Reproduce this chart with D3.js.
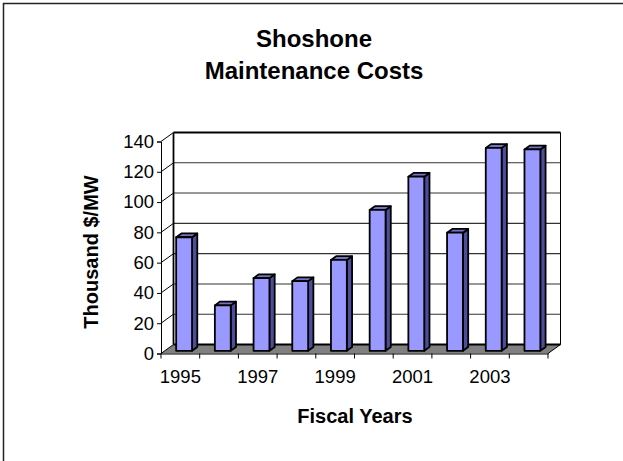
<!DOCTYPE html>
<html>
<head>
<meta charset="utf-8">
<script src="https://cdn.jsdelivr.net/npm/d3@7"></script>
<style>
    body { margin: 0; background: #fff; }
    svg { display: block; font-family: 'Liberation Sans', Arial, sans-serif; }
</style>
</head>
<body>
<div id="chart"></div>
<script>
    'use strict';

    var years = ['1995', '1996', '1997', '1998', '1999', '2000', '2001', '2002', '2003', '2004'];
    var costs = [75, 30, 48, 46, 60, 93, 115, 78, 134, 133];
    var yTicks = [0, 20, 40, 60, 80, 100, 120, 140];
    var labelledYears = ['1995', '1997', '1999', '2001', '2003'];

    var stage = { width: 623, height: 461 };

    // front plane of the 3d box, plus the depth shift to the back wall
    var plot = { left: 161, right: 548, bottom: 353.5, top: 141.5 };
    var depth = { dx: 12.5, dy: -9 };
    // bars sit between these fractions of the depth
    var barDepth = { front: 0.3, back: 0.72 };

    var x = d3.scaleBand()
        .domain(years)
        .range([plot.left, plot.right])
        .paddingInner(0)
        .paddingOuter(0);

    var y = d3.scaleLinear()
        .domain([0, 140])
        .range([plot.bottom, plot.top]);

    var svg = d3.select('#chart')
        .append('svg')
        .attr('width', stage.width)
        .attr('height', stage.height);

    // outer chart frame, only top and left are inside the picture
    svg.append('rect')
        .attr('x', 3.5)
        .attr('y', 3.5)
        .attr('width', 700)
        .attr('height', 600)
        .attr('fill', 'none')
        .attr('stroke', '#222')
        .attr('stroke-width', 1.5);

    var pt = function(px, py, t) {
        return [px + depth.dx * t, py + depth.dy * t];
    };
    var poly = function(points) {
        return points.map(function(p) { return p[0] + ',' + p[1]; }).join(' ');
    };

    // floor
    svg.append('polygon')
        .attr('points', poly([pt(plot.left, plot.bottom, 0), pt(plot.right, plot.bottom, 0),
            pt(plot.right, plot.bottom, 1), pt(plot.left, plot.bottom, 1)]))
        .attr('fill', '#808080')
        .attr('stroke', 'none');

    // back wall gridlines
    var grid = svg.append('g').attr('class', 'grid');
    grid.selectAll('line.back')
        .data(yTicks.slice(1)).enter()
        .append('line')
        .attr('x1', plot.left + depth.dx)
        .attr('x2', plot.right + depth.dx)
        .attr('y1', function(d) { return y(d) + depth.dy; })
        .attr('y2', function(d) { return y(d) + depth.dy; })
        .attr('stroke', function(d) { return d === 140 ? '#000' : '#333'; })
        .attr('stroke-width', function(d) { return d === 140 ? 1.8 : 1.1; });

    // side wall gridlines (diagonals)
    grid.selectAll('line.side')
        .data(yTicks).enter()
        .append('line')
        .attr('x1', plot.left)
        .attr('x2', plot.left + depth.dx)
        .attr('y1', function(d) { return y(d); })
        .attr('y2', function(d) { return y(d) + depth.dy; })
        .attr('stroke', '#000')
        .attr('stroke-width', 1);

    // wall edges
    grid.append('line')
        .attr('x1', plot.left + depth.dx).attr('x2', plot.left + depth.dx)
        .attr('y1', y(0) + depth.dy).attr('y2', y(140) + depth.dy)
        .attr('stroke', '#000').attr('stroke-width', 1.8);
    grid.append('line')
        .attr('x1', plot.right + depth.dx).attr('x2', plot.right + depth.dx)
        .attr('y1', y(0) + depth.dy).attr('y2', y(140) + depth.dy)
        .attr('stroke', '#000').attr('stroke-width', 1);
    grid.append('line')
        .attr('x1', plot.left + depth.dx).attr('x2', plot.right + depth.dx)
        .attr('y1', y(0) + depth.dy).attr('y2', y(0) + depth.dy)
        .attr('stroke', '#000').attr('stroke-width', 1.8);

    // bars: side face, top and front face
    var barW = x.bandwidth() * 0.41;
    var bars = svg.append('g')
        .attr('class', 'bars')
        .selectAll('g')
        .data(years.map(function(yr, i) { return { year: yr, value: costs[i] }; }))
        .enter()
        .append('g');

    var faceX = function(d) { return x(d.year) + (x.bandwidth() - barW) / 2; };

    bars.append('polygon')
        .attr('points', function(d) {
            var x0 = faceX(d) + barW;
            return poly([pt(x0, y(0), barDepth.front), pt(x0, y(0), barDepth.back),
                pt(x0, y(d.value), barDepth.back), pt(x0, y(d.value), barDepth.front)]);
        })
        .attr('fill', '#4d4d99')
        .attr('stroke', '#000')
        .attr('stroke-width', 1.8)
        .attr('stroke-linejoin', 'round');

    bars.append('polygon')
        .attr('points', function(d) {
            var x0 = faceX(d);
            return poly([pt(x0, y(d.value), barDepth.front), pt(x0 + barW, y(d.value), barDepth.front),
                pt(x0 + barW, y(d.value), barDepth.back), pt(x0, y(d.value), barDepth.back)]);
        })
        .attr('fill', '#7373bf')
        .attr('stroke', '#000')
        .attr('stroke-width', 1.8)
        .attr('stroke-linejoin', 'round');

    bars.append('polygon')
        .attr('points', function(d) {
            var x0 = faceX(d);
            return poly([pt(x0, y(0), barDepth.front), pt(x0 + barW, y(0), barDepth.front),
                pt(x0 + barW, y(d.value), barDepth.front), pt(x0, y(d.value), barDepth.front)]);
        })
        .attr('fill', '#9999ff')
        .attr('stroke', '#000')
        .attr('stroke-width', 1.8)
        .attr('stroke-linejoin', 'round');

    // right floor edge
    svg.append('line')
        .attr('x1', plot.right).attr('x2', plot.right + depth.dx)
        .attr('y1', plot.bottom).attr('y2', plot.bottom + depth.dy)
        .attr('stroke', '#000').attr('stroke-width', 1);

    // y axis on the front plane
    var yAxis = d3.axisLeft(y)
        .tickValues(yTicks)
        .tickSize(4)
        .tickPadding(3);

    svg.append('g')
        .attr('transform', 'translate(' + plot.left + ',0)')
        .call(yAxis)
        .call(function(g) {
            g.select('.domain').attr('stroke', '#000').attr('stroke-width', 1);
            g.selectAll('.tick line').attr('stroke', '#000');
            g.selectAll('text')
                .attr('fill', '#000')
                .attr('font-size', 18.5)
                .attr('font-family', "'Liberation Sans', Arial, sans-serif");
        });

    // x axis on the front floor edge
    var xAxis = d3.axisBottom(x)
        .tickSize(0)
        .tickPadding(16)
        .tickFormat(function(d) { return labelledYears.indexOf(d) >= 0 ? d : ''; });

    svg.append('g')
        .attr('transform', 'translate(0,' + plot.bottom + ')')
        .call(xAxis)
        .call(function(g) {
            g.select('.domain').attr('stroke', '#000').attr('stroke-width', 1);
            g.selectAll('text')
                .attr('fill', '#000')
                .attr('font-size', 18.5)
                .attr('font-family', "'Liberation Sans', Arial, sans-serif");
        });

    // tick marks between the years
    svg.append('g')
        .selectAll('line')
        .data(years.concat(['end'])).enter()
        .append('line')
        .attr('x1', function(d, i) { return i < years.length ? x(d) : plot.right; })
        .attr('x2', function(d, i) { return i < years.length ? x(d) : plot.right; })
        .attr('y1', plot.bottom)
        .attr('y2', plot.bottom + 5)
        .attr('stroke', '#000');

    // titles
    var title = svg.append('text')
        .attr('text-anchor', 'middle')
        .attr('font-size', 24)
        .attr('font-weight', 'bold')
        .attr('fill', '#000');
    title.append('tspan').attr('x', 314).attr('y', 47).text('Shoshone');
    title.append('tspan').attr('x', 314).attr('y', 79).text('Maintenance Costs');

    svg.append('text')
        .attr('transform', 'translate(98,252) rotate(-90)')
        .attr('text-anchor', 'middle')
        .attr('font-size', 20)
        .attr('font-weight', 'bold')
        .attr('fill', '#000')
        .text('Thousand $/MW');

    svg.append('text')
        .attr('x', 355)
        .attr('y', 423)
        .attr('text-anchor', 'middle')
        .attr('font-size', 20)
        .attr('font-weight', 'bold')
        .attr('fill', '#000')
        .text('Fiscal Years');
</script>
</body>
</html>
